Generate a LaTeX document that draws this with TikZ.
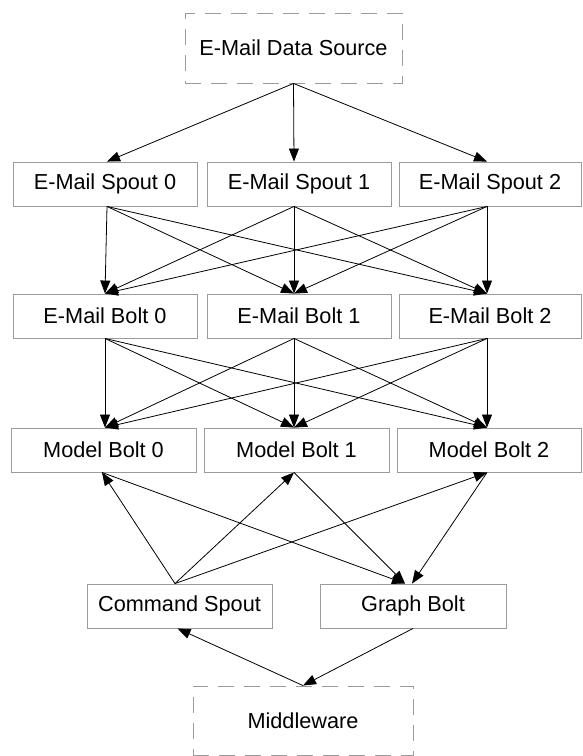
\documentclass[tikz,border=0pt]{standalone}
\usepackage{fontspec}
\setmainfont{Liberation Sans}
\usetikzlibrary{arrows.meta}
\definecolor{boxgray}{RGB}{155,155,155}
\begin{document}
\begin{tikzpicture}[x=1pt,y=-1pt,
  box/.style={draw=boxgray,line width=0.9pt,inner sep=0pt,minimum height=44pt,
    font=\fontsize{21.7}{26}\selectfont,text=black},
  dbox/.style={draw=boxgray,line width=0.9pt,dash pattern=on 16pt off 10pt,inner sep=0pt,
    minimum height=70pt,font=\fontsize{21.7}{26}\selectfont,text=black},
  arr/.style={-{Triangle[length=13pt,width=10pt]},line width=0.8pt,black}]
\useasboundingbox (0,0) rectangle (582,756);
\node[dbox,minimum width=217pt] (src) at (293.5,48) {E-Mail Data Source};
\node[box,minimum width=184pt] (sp0) at (105,184) {E-Mail Spout 0};
\node[box,minimum width=184pt] (sp1) at (299,184) {E-Mail Spout 1};
\node[box,minimum width=182pt] (sp2) at (490,184) {E-Mail Spout 2};
\node[box,minimum width=184pt] (eb0) at (105,316) {E-Mail Bolt 0};
\node[box,minimum width=184pt] (eb1) at (299,316) {E-Mail Bolt 1};
\node[box,minimum width=182pt] (eb2) at (490,316) {E-Mail Bolt 2};
\node[box,minimum width=185pt] (mb0) at (103.5,450) {Model Bolt 0};
\node[box,minimum width=185pt] (mb1) at (296.5,450) {Model Bolt 1};
\node[box,minimum width=184pt] (mb2) at (489,450) {Model Bolt 2};
\node[box,minimum width=185pt] (cs) at (179.5,606) {Command Spout};
\node[box,minimum width=186pt] (gb) at (413,606) {Graph Bolt};
\node[dbox,minimum width=220pt,minimum height=69pt] (mw) at (303,720.5) {Middleware};
% source to spouts
\draw[arr] (src.south) -- ([xshift=2pt]sp0.north);
\draw[arr] (src.south) -- ([xshift=-5pt]sp1.north);
\draw[arr] (src.south) -- ([xshift=-3pt]sp2.north);
% spouts to email bolts
\foreach \s/\sx in {sp0/2,sp1/-5,sp2/-3}{
  \draw[arr] ([xshift=\sx pt]\s.south) -- (eb0.north);
  \draw[arr] ([xshift=\sx pt]\s.south) -- ([xshift=-5pt]eb1.north);
  \draw[arr] ([xshift=\sx pt]\s.south) -- ([xshift=-3pt]eb2.north);
}
% email bolts to model bolts
\foreach \s/\sx in {eb0/0,eb1/-5,eb2/-3}{
  \draw[arr] ([xshift=\sx pt]\s.south) -- ([xshift=1.5pt]mb0.north);
  \draw[arr] ([xshift=\sx pt]\s.south) -- ([xshift=-2.5pt]mb1.north);
  \draw[arr] ([xshift=\sx pt]\s.south) -- ([xshift=-2pt]mb2.north);
}
% model bolts to graph bolt
\draw[arr] ([xshift=-1.5pt]mb0.south) -- ([xshift=-8pt]gb.north);
\draw[arr] ([xshift=-2.5pt]mb1.south) -- ([xshift=-8pt]gb.north);
\draw[arr] ([xshift=-2pt]mb2.south) -- ([xshift=-1pt]gb.north);
% command spout to model bolts
\draw[arr] ([xshift=-4.5pt]cs.north) -- ([xshift=-1.5pt]mb0.south);
\draw[arr] ([xshift=-4.5pt]cs.north) -- ([xshift=-2.5pt]mb1.south);
\draw[arr] ([xshift=-4.5pt]cs.north) -- ([xshift=-2pt]mb2.south);
% middleware
\draw[arr] (mw.north) -- ([xshift=-2pt]cs.south);
\draw[arr] (gb.south) -- (mw.north);
\end{tikzpicture}
\end{document}
